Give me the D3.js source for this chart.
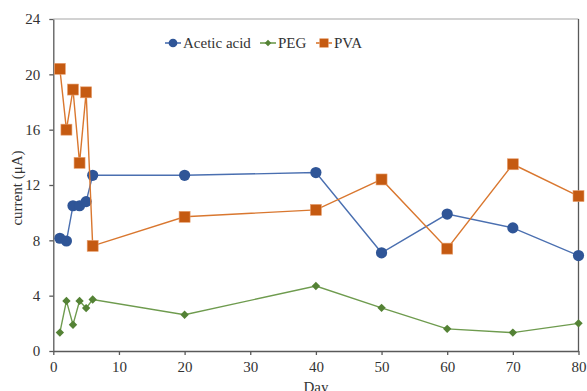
<!DOCTYPE html>
<html><head><meta charset="utf-8">
<script src="https://d3js.org/d3.v7.min.js"></script>
<style>body{margin:0;background:#fff}svg{display:block}</style>
</head><body>
<script>
const days = [1,2,3,4,5,6,20,40,50,60,70,80];
const aceticAcid = [8.15,7.95,10.5,10.5,10.8,12.7,12.7,12.9,7.1,9.9,8.9,6.9];
const peg = [1.33,3.62,1.9,3.62,3.1,3.72,2.62,4.7,3.12,1.6,1.33,2.0];
const pva = [20.4,16.0,18.9,13.6,18.7,7.6,9.7,10.2,12.4,7.4,13.5,11.2];
const xTicks = [0,10,20,30,40,50,60,70,80];
const yTicks = [0,4,8,12,16,20,24];
const seriesNames = ["Acetic acid","PEG","PVA"];
const colors = ["#2F5597","#548235","#C55A11"];
const lineColors = ["#4A6FB0","#6E9B4E","#D9772F"];

const W=587,H=391, mL=53.3, mR=578.5, mT=19, mB=351;
const font = "'Liberation Serif','Times New Roman',serif";
const svg = d3.select("body").append("svg").attr("width",W).attr("height",H);
const x = d3.scaleLinear().domain([0,80]).range([mL,mR]);
const y = d3.scaleLinear().domain([0,24]).range([mB,mT]);

// frame
svg.append("line").attr("x1",mL).attr("x2",mR).attr("y1",mT).attr("y2",mT).attr("stroke","#a6a6a6").attr("stroke-width",1.2);
svg.append("line").attr("x1",mR).attr("x2",mR).attr("y1",mT).attr("y2",mB).attr("stroke","#595959").attr("stroke-width",1.3);

const xa = svg.append("g").attr("transform",`translate(0,${mB})`)
  .call(d3.axisBottom(x).tickValues(xTicks).tickSize(4).tickPadding(6).tickSizeOuter(0));
const ya = svg.append("g").attr("transform",`translate(${mL},0)`)
  .call(d3.axisLeft(y).tickValues(yTicks).tickSize(4).tickPadding(9).tickSizeOuter(0));
[xa,ya].forEach(a=>{
  a.attr("font-family",font).attr("font-size",15);
  a.selectAll("path,line").attr("stroke","#595959").attr("stroke-width",1.3);
  a.selectAll("text").attr("font-family",font).attr("font-size",15).attr("fill","#333");
});

svg.append("text").attr("x",(mL+mR)/2).attr("y",392).attr("text-anchor","middle")
  .attr("font-family",font).attr("font-size",15).attr("fill","#333").text("Day");
svg.append("text").attr("transform",`translate(22,${(mT+mB)/2 + 3}) rotate(-90)`).attr("text-anchor","middle")
  .attr("font-family",font).attr("font-size",15).attr("fill","#333").text("current (μA)");

const all = [aceticAcid,peg,pva];
const line = d3.line().x((d,i)=>x(days[i])).y(d=>y(d));
function marker(g,k,cx,cy,scale){
  if(k===0) g.append("circle").attr("cx",cx).attr("cy",cy).attr("r",5.6*scale).attr("fill",colors[0]);
  else if(k===1){const s=4.2*scale; g.append("path").attr("d",`M${cx},${cy-s}L${cx+s},${cy}L${cx},${cy+s}L${cx-s},${cy}Z`).attr("fill",colors[1]);}
  else {const s=5.5*scale; g.append("rect").attr("x",cx-s).attr("y",cy-s).attr("width",2*s).attr("height",2*s).attr("fill",colors[2]).attr("stroke","#E8A070").attr("stroke-width",0.6);}
}
all.forEach((vals,k)=>{
  const g = svg.append("g");
  g.append("path").datum(vals).attr("d",line).attr("fill","none").attr("stroke",lineColors[k]).attr("stroke-width",1.4);
  vals.forEach((v,i)=>marker(g,k,x(days[i]),y(v),1));
});

// legend
const lg = svg.append("g");
const legX = [165,260,316];
seriesNames.forEach((n,k)=>{
  const lx=legX[k], ly=43;
  lg.append("line").attr("x1",lx).attr("x2",lx+16).attr("y1",ly).attr("y2",ly).attr("stroke",lineColors[k]).attr("stroke-width",1.6);
  marker(lg,k,lx+8,ly,0.78);
  lg.append("text").attr("x",lx+18).attr("y",ly+5).attr("font-family",font).attr("font-size",15).attr("fill","#333").text(n);
});
</script>
</body></html>
